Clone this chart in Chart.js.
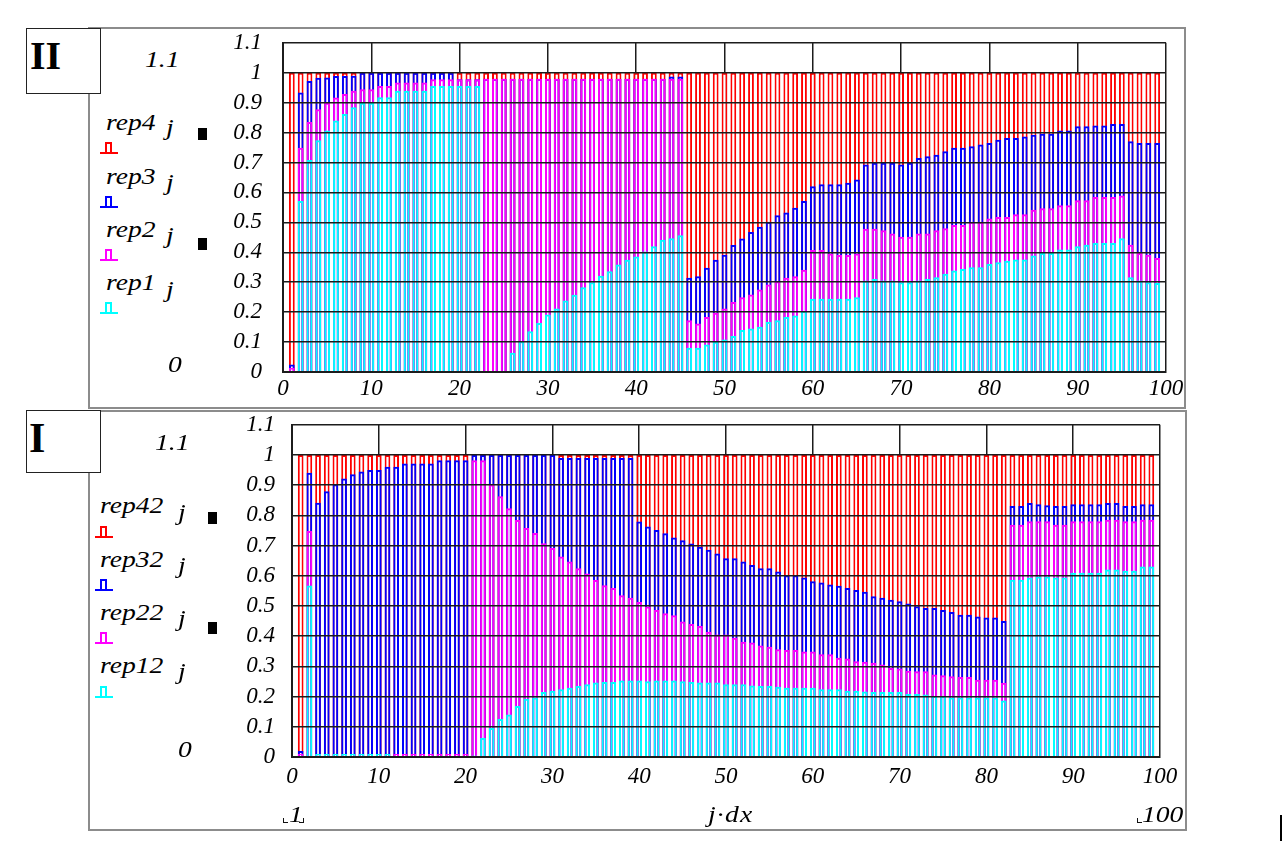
<!DOCTYPE html>
<html>
<head>
<meta charset="utf-8">
<title>rep</title>
<script src="https://cdn.jsdelivr.net/npm/chart.js@4.4.1/dist/chart.umd.min.js"></script>
<style>
  html, body { margin: 0; padding: 0; background: #fff; }
  body { position: relative; width: 1285px; height: 841px; overflow: hidden;
         font-family: "Liberation Serif", "Times New Roman", serif; color: #000; }
  .frame { position: absolute; box-sizing: border-box; border: 2px solid #8c8c8c; }
  .tag { position: absolute; box-sizing: border-box; border: 1.5px solid #222; background: #fff;
         font-weight: bold; line-height: 1; color: #000; }
  .t { position: absolute; font-style: italic; font-size: 23px; line-height: 23px; white-space: nowrap;
       transform: scaleX(1.2); transform-origin: 0 0; }
  .sym { position: absolute; width: 18px; height: 11px; box-sizing: border-box; border-bottom: 2px solid currentColor; }
  .sym i { position: absolute; left: 5px; bottom: 0; width: 7px; height: 10px; box-sizing: border-box;
           border: 2px solid currentColor; border-bottom: none; }
  .sq { position: absolute; width: 9px; height: 12px; background: #000; }
  .crn { position: absolute; width: 5px; height: 5px; box-sizing: border-box; border-bottom: 1.5px solid #111; }
  canvas { position: absolute; }
</style>
</head>
<body>

<div class="frame" style="left:88px;top:27px;width:1098px;height:382px;"></div>
<div class="frame" style="left:88px;top:410px;width:1099px;height:421px;"></div>

<div class="tag" style="left:26px;top:28px;width:75px;height:66px;font-size:40px;padding:7px 0 0 3px;">II</div>
<div class="tag" style="left:26px;top:410px;width:75px;height:63px;font-size:42px;padding:6px 0 0 2px;">I</div>

<canvas id="panelII" width="1000" height="402" style="left:200px;top:8px;"></canvas>
<canvas id="panelI" width="1000" height="415" style="left:200px;top:394px;"></canvas>

<!-- panel II legend -->
<div class="t" style="left:145px;top:48px;">1.1</div>
<div class="t" style="left:106px;top:111px;">rep4</div><div class="t" style="left:166px;top:116px;">j</div>
<div class="sym" style="left:100px;top:143px;color:#ff0000;"><i></i></div>
<div class="t" style="left:106px;top:165px;">rep3</div><div class="t" style="left:166px;top:171px;">j</div>
<div class="sym" style="left:100px;top:197px;color:#0000ff;"><i></i></div>
<div class="t" style="left:106px;top:218px;">rep2</div><div class="t" style="left:166px;top:224px;">j</div>
<div class="sym" style="left:100px;top:250px;color:#ff00ff;"><i></i></div>
<div class="t" style="left:106px;top:271px;">rep1</div><div class="t" style="left:166px;top:278px;">j</div>
<div class="sym" style="left:100px;top:303px;color:#00ffff;"><i></i></div>
<div class="sq" style="left:198px;top:128px;"></div>
<div class="sq" style="left:198px;top:238px;"></div>
<div class="t" style="left:168px;top:353px;">0</div>

<!-- panel I legend -->
<div class="t" style="left:155px;top:431px;">1.1</div>
<div class="t" style="left:100px;top:494px;">rep42</div><div class="t" style="left:178px;top:501px;">j</div>
<div class="sym" style="left:95px;top:527px;color:#ff0000;"><i></i></div>
<div class="t" style="left:100px;top:548px;">rep32</div><div class="t" style="left:178px;top:554px;">j</div>
<div class="sym" style="left:95px;top:580px;color:#0000ff;"><i></i></div>
<div class="t" style="left:100px;top:601px;">rep22</div><div class="t" style="left:178px;top:607px;">j</div>
<div class="sym" style="left:95px;top:633px;color:#ff00ff;"><i></i></div>
<div class="t" style="left:100px;top:654px;">rep12</div><div class="t" style="left:178px;top:660px;">j</div>
<div class="sym" style="left:95px;top:687px;color:#00ffff;"><i></i></div>
<div class="sq" style="left:208px;top:512px;"></div>
<div class="sq" style="left:208px;top:622px;"></div>
<div class="t" style="left:178px;top:738px;">0</div>

<!-- x limits and label -->
<div class="crn" style="left:283px;top:818px;border-left:1.5px solid #111;"></div>
<div class="t" style="left:289px;top:803px;">1</div>
<div class="crn" style="left:299px;top:818px;border-right:1.5px solid #111;"></div>
<div class="t" style="left:708px;top:803px;letter-spacing:1px;">j·dx</div>
<div class="crn" style="left:1137px;top:818px;border-left:1.5px solid #111;"></div>
<div class="t" style="left:1142px;top:803px;">100</div>
<div style="position:absolute;left:1280px;top:815px;width:2px;height:26px;background:#000;"></div>

<script>
// panel II : rep4..rep1, j = 1..99
const rep4 = [
  1, 1, 1, 1, 1, 1, 1, 1, 1, 1,
  1, 1, 1, 1, 1, 1, 1, 1, 1, 1,
  1, 1, 1, 1, 1, 1, 1, 1, 1, 1,
  1, 1, 1, 1, 1, 1, 1, 1, 1, 1,
  1, 1, 1, 1, 1, 1, 1, 1, 1, 1,
  1, 1, 1, 1, 1, 1, 1, 1, 1, 1,
  1, 1, 1, 1, 1, 1, 1, 1, 1, 1,
  1, 1, 1, 1, 1, 1, 1, 1, 1, 1,
  1, 1, 1, 1, 1, 1, 1, 1, 1, 1,
  1, 1, 1, 1, 1, 1, 1, 1, 1
];
const rep3 = [
  0.025, 0.934, 0.972, 0.983, 0.984, 0.989, 0.989, 0.99, 1, 1,
  1, 1, 1, 1, 1, 1, 1, 1, 1, 0.978,
  0.978, 0.978, 0.98, 0.98, 0.98, 0.98, 0.98, 0.98, 0.98, 0.98,
  0.98, 0.98, 0.98, 0.98, 0.98, 0.98, 0.98, 0.98, 0.98, 0.98,
  0.98, 0.98, 0.98, 0.987, 0.987, 0.315, 0.320, 0.348, 0.375, 0.392,
  0.424, 0.446, 0.468, 0.485, 0.502, 0.524, 0.533, 0.549, 0.571, 0.621,
  0.627, 0.627, 0.627, 0.632, 0.643, 0.693, 0.699, 0.699, 0.699, 0.693,
  0.699, 0.715, 0.721, 0.726, 0.738, 0.749, 0.749, 0.754, 0.760, 0.765,
  0.776, 0.782, 0.782, 0.787, 0.793, 0.796, 0.796, 0.807, 0.807, 0.821,
  0.821, 0.824, 0.824, 0.829, 0.829, 0.771, 0.765, 0.765, 0.765
];
const rep2 = [
  0.014, 0.749, 0.835, 0.878, 0.900, 0.917, 0.929, 0.940, 0.945, 0.945,
  0.956, 0.956, 0.967, 0.967, 0.967, 0.967, 0.978, 0.978, 0.978, 0.978,
  0.978, 0.978, 0.98, 0.98, 0.98, 0.98, 0.98, 0.98, 0.98, 0.98,
  0.98, 0.98, 0.98, 0.98, 0.98, 0.98, 0.98, 0.98, 0.98, 0.98,
  0.98, 0.98, 0.98, 0.98, 0.98, 0.173, 0.162, 0.184, 0.198, 0.212,
  0.234, 0.250, 0.259, 0.276, 0.292, 0.303, 0.315, 0.320, 0.342, 0.408,
  0.408, 0.396, 0.391, 0.391, 0.396, 0.479, 0.479, 0.474, 0.463, 0.452,
  0.452, 0.463, 0.463, 0.474, 0.480, 0.491, 0.491, 0.502, 0.502, 0.513,
  0.518, 0.518, 0.527, 0.527, 0.542, 0.547, 0.547, 0.557, 0.557, 0.574,
  0.574, 0.585, 0.585, 0.585, 0.590, 0.425, 0.398, 0.392, 0.381
];
const rep1 = [
  0, 0.571, 0.708, 0.774, 0.807, 0.840, 0.862, 0.885, 0.900, 0.900,
  0.918, 0.918, 0.940, 0.940, 0.940, 0.940, 0.956, 0.956, 0.956, 0.956,
  0.956, 0.956, 0, 0, 0, 0.064, 0.103, 0.136, 0.164, 0.192,
  0.212, 0.239, 0.258, 0.283, 0.300, 0.322, 0.337, 0.359, 0.375, 0.386,
  0.403, 0.420, 0.442, 0.447, 0.457, 0.081, 0.081, 0.092, 0.101, 0.109,
  0.120, 0.140, 0.145, 0.151, 0.167, 0.173, 0.184, 0.189, 0.204, 0.245,
  0.245, 0.245, 0.245, 0.245, 0.250, 0.306, 0.311, 0.306, 0.306, 0.300,
  0.300, 0.306, 0.311, 0.317, 0.328, 0.339, 0.344, 0.350, 0.350, 0.361,
  0.367, 0.372, 0.376, 0.376, 0.389, 0.398, 0.398, 0.409, 0.409, 0.420,
  0.425, 0.431, 0.431, 0.431, 0.447, 0.317, 0.306, 0.300, 0.297
];

// panel I : rep42..rep12, j = 1..99
const rep42 = [
  1, 1, 1, 1, 1, 1, 1, 1, 1, 1,
  1, 1, 1, 1, 1, 1, 1, 1, 1, 1,
  1, 1, 1, 1, 1, 1, 1, 1, 1, 1,
  1, 1, 1, 1, 1, 1, 1, 1, 1, 1,
  1, 1, 1, 1, 1, 1, 1, 1, 1, 1,
  1, 1, 1, 1, 1, 1, 1, 1, 1, 1,
  1, 1, 1, 1, 1, 1, 1, 1, 1, 1,
  1, 1, 1, 1, 1, 1, 1, 1, 1, 1,
  1, 1, 1, 1, 1, 1, 1, 1, 1, 1,
  1, 1, 1, 1, 1, 1, 1, 1, 1
];
const rep32 = [
  0.02, 0.941, 0.842, 0.880, 0.903, 0.922, 0.936, 0.945, 0.950, 0.950,
  0.961, 0.961, 0.972, 0.972, 0.972, 0.972, 0.983, 0.983, 0.983, 0.983,
  1, 1, 1, 1, 1, 1, 1, 1, 1, 1,
  0.99, 0.99, 0.99, 0.99, 0.99, 0.99, 0.99, 0.99, 0.99, 0.780,
  0.763, 0.752, 0.741, 0.727, 0.718, 0.707, 0.696, 0.686, 0.674, 0.658,
  0.658, 0.647, 0.636, 0.625, 0.625, 0.614, 0.602, 0.602, 0.594, 0.582,
  0.578, 0.571, 0.567, 0.560, 0.553, 0.547, 0.532, 0.527, 0.521, 0.516,
  0.508, 0.499, 0.493, 0.493, 0.487, 0.480, 0.471, 0.471, 0.465, 0.462,
  0.462, 0.450, 0.831, 0.831, 0.841, 0.837, 0.834, 0.831, 0.831, 0.837,
  0.837, 0.837, 0.837, 0.841, 0.841, 0.831, 0.831, 0.837, 0.837
];
const rep22 = [
  0.01, 0.748, 0.01, 0.01, 0.01, 0.01, 0.01, 0.01, 0.01, 0.01,
  0.01, 0.01, 0.01, 0.01, 0.01, 0.01, 0.01, 0.01, 0.01, 0.01,
  0.983, 0.983, 0.902, 0.863, 0.824, 0.785, 0.758, 0.742, 0.708, 0.692,
  0.664, 0.647, 0.625, 0.608, 0.586, 0.569, 0.560, 0.536, 0.527, 0.513,
  0.498, 0.487, 0.476, 0.469, 0.449, 0.440, 0.434, 0.415, 0.406, 0.406,
  0.395, 0.382, 0.379, 0.369, 0.365, 0.357, 0.354, 0.354, 0.349, 0.349,
  0.340, 0.340, 0.329, 0.326, 0.317, 0.315, 0.312, 0.306, 0.295, 0.293,
  0.286, 0.284, 0.284, 0.273, 0.271, 0.267, 0.265, 0.265, 0.256, 0.256,
  0.256, 0.246, 0.769, 0.769, 0.781, 0.781, 0.781, 0.769, 0.769, 0.781,
  0.781, 0.781, 0.781, 0.786, 0.786, 0.781, 0.781, 0.786, 0.786
];
const rep12 = [
  0, 0.568, 0.01, 0.01, 0.01, 0.01, 0.01, 0.01, 0.01, 0.01,
  0.01, 0, 0, 0, 0, 0, 0, 0, 0, 0,
  0.005, 0.063, 0.096, 0.126, 0.141, 0.169, 0.193, 0.197, 0.215, 0.219,
  0.224, 0.229, 0.235, 0.241, 0.247, 0.248, 0.248, 0.253, 0.253, 0.253,
  0.251, 0.253, 0.253, 0.253, 0.251, 0.248, 0.247, 0.247, 0.247, 0.241,
  0.241, 0.241, 0.237, 0.235, 0.235, 0.233, 0.229, 0.229, 0.229, 0.229,
  0.224, 0.224, 0.224, 0.219, 0.219, 0.217, 0.215, 0.215, 0.215, 0.215,
  0.209, 0.209, 0.207, 0.202, 0.202, 0.197, 0.197, 0.197, 0.197, 0.197,
  0.197, 0.187, 0.587, 0.587, 0.594, 0.598, 0.598, 0.594, 0.594, 0.610,
  0.610, 0.610, 0.610, 0.621, 0.621, 0.617, 0.617, 0.631, 0.631
];

const xRange = [0, 100];
const yRange = [0, 1.1];
const xStep = 10;
const yStep = 0.1;

const tickFont = { family: '"Liberation Serif", "Times New Roman", serif', style: 'italic', size: 23 };
const lineCol = '#1c1c1c';

// bars at j = 1..99
function points(vals) {
  return vals.map((v, i) => ({ x: i + 1, y: v }));
}

function barSet(name, vals, color, fill, order) {
  return {
    label: name,
    data: points(vals),
    borderColor: color,
    backgroundColor: fill,
    borderWidth: 2,
    grouped: false,
    order: order,
    barPercentage: 0.66,
    categoryPercentage: 1
  };
}

function drawPanel(id, sets, yWidth, yPad, xPad, pad) {
  new Chart(document.getElementById(id), {
    type: 'bar',
    data: { datasets: sets },
    options: {
      responsive: false,
      animation: false,
      events: [],
      layout: { padding: pad },
      plugins: { legend: { display: false }, tooltip: { enabled: false } },
      scales: {
        x: {
          type: 'linear', min: xRange[0], max: xRange[1], offset: false,
          ticks: { stepSize: xStep, font: tickFont, color: '#000', padding: xPad, maxRotation: 0, autoSkip: false },
          grid: { color: lineCol, lineWidth: 1.5, drawTicks: false, offset: false },
          border: { color: lineCol, width: 2 },
          afterFit: (s) => { s.height = 30; }
        },
        y: {
          min: yRange[0], max: yRange[1],
          ticks: { stepSize: yStep, font: tickFont, color: '#000', padding: yPad, autoSkip: false,
                   callback: (v) => String(+v.toFixed(1)) },
          grid: { color: lineCol, lineWidth: 1.5, drawTicks: false, z: 1 },
          border: { color: lineCol, width: 2, z: 2 },
          afterFit: (s) => { s.width = yWidth; }
        }
      }
    }
  });
}

drawPanel('panelII', [
  barSet('rep4', rep4, '#ff0000', '#ffffff', 3),
  barSet('rep3', rep3, '#0000ff', 'rgba(0,0,0,0)', 2),
  barSet('rep2', rep2, '#ff00ff', 'rgba(0,0,0,0)', 1),
  barSet('rep1', rep1, '#00ffff', 'rgba(0,0,0,0)', 0)
], 83, 21, 3, { top: 0, right: 34, bottom: 8, left: 0 });

drawPanel('panelI', [
  barSet('rep42', rep42, '#ff0000', '#ffffff', 3),
  barSet('rep32', rep32, '#0000ff', 'rgba(0,0,0,0)', 2),
  barSet('rep22', rep22, '#ff00ff', 'rgba(0,0,0,0)', 1),
  barSet('rep12', rep12, '#00ffff', 'rgba(0,0,0,0)', 0)
], 92, 17, 6, { top: 0, right: 40, bottom: 22, left: 0 });
</script>
</body>
</html>
